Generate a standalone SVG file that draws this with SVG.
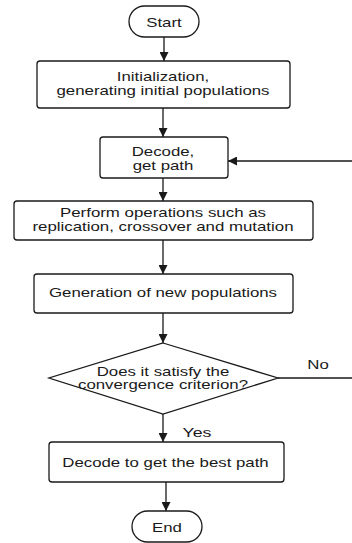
<svg xmlns="http://www.w3.org/2000/svg" width="352" height="543" viewBox="0 0 352 543">
<style>
.box{fill:#fff;stroke:#1a1a1a;stroke-width:1.3}
.ln{fill:none;stroke:#1a1a1a;stroke-width:1.3}
text{font-family:"Liberation Sans",Arial,sans-serif;font-size:13px;fill:#1a1a1a;text-anchor:middle}
</style>
<defs>
<marker id="ah" viewBox="0 0 10 10" refX="10" refY="5" markerWidth="9" markerHeight="9" markerUnits="userSpaceOnUse" orient="auto">
<path d="M0,0 L10,5 L0,10 z" fill="#1a1a1a"/>
</marker>
</defs>
<rect width="352" height="543" fill="#fff"/>
<g id="connectors">
<path class="ln" d="M164,37 V61" marker-end="url(#ah)"/>
<path class="ln" d="M163,108 V137" marker-end="url(#ah)"/>
<path class="ln" d="M163,178 V201" marker-end="url(#ah)"/>
<path class="ln" d="M163,240 V274" marker-end="url(#ah)"/>
<path class="ln" d="M163,313 V343" marker-end="url(#ah)"/>
<path class="ln" d="M163,414 V442" marker-end="url(#ah)"/>
<path class="ln" d="M166,482 V511" marker-end="url(#ah)"/>
<path class="ln" d="M278,378 H362 V161 H228" marker-end="url(#ah)"/>
<text x="318" y="369" textLength="21.5" lengthAdjust="spacingAndGlyphs">No</text>
<text x="197" y="436.5" textLength="28.9" lengthAdjust="spacingAndGlyphs">Yes</text>
</g>
<g id="start">
<rect class="box" x="129" y="6" width="70" height="31" rx="15.5"/>
<text x="164" y="26.5" textLength="35.5" lengthAdjust="spacingAndGlyphs">Start</text>
</g>
<g id="init">
<rect class="box" x="37" y="61" width="253" height="47" rx="3"/>
<text x="163" y="81" textLength="92.4" lengthAdjust="spacingAndGlyphs">Initialization,</text>
<text x="163" y="94.5" textLength="213" lengthAdjust="spacingAndGlyphs">generating initial populations</text>
</g>
<g id="decode">
<rect class="box" x="100" y="137" width="128" height="41" rx="3"/>
<text x="163" y="156" textLength="62.6" lengthAdjust="spacingAndGlyphs">Decode,</text>
<text x="163" y="169.5" textLength="60.7" lengthAdjust="spacingAndGlyphs">get path</text>
</g>
<g id="operations">
<rect class="box" x="14" y="201" width="299" height="39" rx="3"/>
<text x="163" y="217" textLength="206" lengthAdjust="spacingAndGlyphs">Perform operations such as</text>
<text x="163" y="230.5" textLength="261" lengthAdjust="spacingAndGlyphs">replication, crossover and mutation</text>
</g>
<g id="generation">
<rect class="box" x="34" y="274" width="259" height="39" rx="3"/>
<text x="163" y="297" textLength="228" lengthAdjust="spacingAndGlyphs">Generation of new populations</text>
</g>
<g id="decision">
<polygon class="box" points="163,343 278,378 163,414 49,378"/>
<text x="163" y="375.5" textLength="132.6" lengthAdjust="spacingAndGlyphs">Does it satisfy the</text>
<text x="163" y="389" textLength="170" lengthAdjust="spacingAndGlyphs">convergence criterion?</text>
</g>
<g id="best">
<rect class="box" x="49" y="442" width="235" height="40" rx="3"/>
<text x="165.5" y="466.5" textLength="206.4" lengthAdjust="spacingAndGlyphs">Decode to get the best path</text>
</g>
<g id="end">
<rect class="box" x="132" y="511" width="70" height="31" rx="15.5"/>
<text x="167" y="531.5" textLength="29.9" lengthAdjust="spacingAndGlyphs">End</text>
</g>
</svg>
